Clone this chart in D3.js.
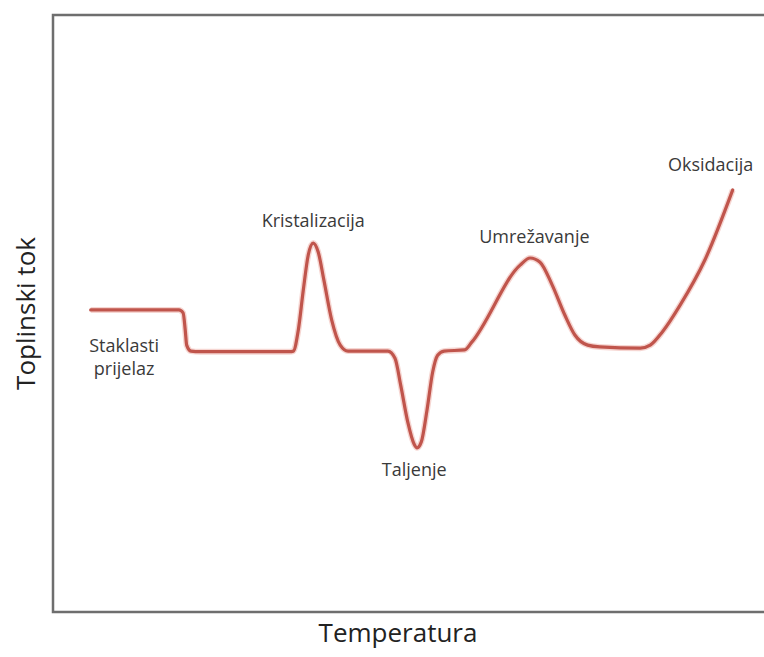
<!DOCTYPE html>
<html>
<head>
<meta charset="utf-8">
<script src="https://cdn.jsdelivr.net/npm/d3@7"></script>
<style>
  body { margin: 0; background: #fff; }
  svg { display: block; font-family: "Open Sans", "Noto Sans", sans-serif; }
</style>
</head>
<body>
<svg id="chart"></svg>
<script>
// DSC curve data (temperature / heat flow, arbitrary units)
const temperature = [5.3, 17.7, 18.3, 18.6, 18.8, 19.4, 20.7, 33.3, 33.8, 34.5,
  35.2, 35.9, 36.6, 37.3, 38.1, 39.2, 40.4, 41.5, 47.1, 48.1,
  48.9, 49.9, 50.8, 51.2, 51.8, 52.6, 53.4, 54.1, 55.0, 57.9,
  58.9, 65.7, 67.1, 68.5, 70.2, 72.0, 73.4, 75.2, 76.9, 82.6,
  84.0, 85.7, 88.2, 91.7, 95.6];
const heatFlow = [50.6, 50.6, 50.1, 47.2, 44.7, 43.7, 43.6, 43.6, 43.7, 47.2,
  53.9, 59.8, 61.8, 60.3, 55.6, 48.9, 44.7, 43.7, 43.7, 42.5,
  38.0, 31.8, 28.1, 27.5, 28.5, 33.8, 40.2, 43.0, 43.7, 43.9,
  45.2, 58.1, 59.3, 58.6, 54.8, 49.7, 46.4, 44.7, 44.4, 44.2,
  44.7, 46.9, 51.4, 59.0, 70.7];

// annotations (label text, anchor temperature, anchor heat flow)
const labelText = ["Staklasti", "prijelaz", "Kristalizacija", "Taljenje", "Umrežavanje", "Oksidacija"];
const labelTemp = [10.0, 10.0, 36.6, 50.8, 67.7, 92.5];
const labelHeat = [43.6, 39.7, 64.5, 22.8, 61.8, 73.9];

const xTitle = "Temperatura";
const yTitle = "Toplinski tok";

const width = 764;
const height = 657;
const margin = { top: 15, right: 0, bottom: 45, left: 53 };
const innerWidth = width - margin.left - margin.right;
const innerHeight = height - margin.top - margin.bottom;

const svg = d3.select("#chart")
    .attr("width", width)
    .attr("height", height);

const xScale = d3.scaleLinear()
    .domain([0, 100])
    .range([margin.left, margin.left + innerWidth]);

const yScale = d3.scaleLinear()
    .domain([0, 100])
    .range([margin.top + innerHeight, margin.top]);

// frame (right side runs off the picture)
svg.append("path")
    .attr("d", `M${width},${margin.top} H${margin.left} V${margin.top + innerHeight} H${width}`)
    .attr("fill", "none")
    .attr("stroke", "#6e6e6e")
    .attr("stroke-width", 2.5);

const points = temperature.map((t, i) => ({ t: t, h: heatFlow[i] }));

const line = d3.line()
    .x(d => xScale(d.t))
    .y(d => yScale(d.h))
    .curve(d3.curveMonotoneX);

// soft halo under the curve
svg.append("path")
    .datum(points)
    .attr("d", line)
    .attr("fill", "none")
    .attr("stroke", "#f6d6d2")
    .attr("stroke-width", 6)
    .attr("stroke-linejoin", "round");

svg.append("path")
    .datum(points)
    .attr("d", line)
    .attr("fill", "none")
    .attr("stroke", "#c0554c")
    .attr("stroke-width", 3.2)
    .attr("stroke-linejoin", "round")
    .attr("stroke-linecap", "round");

// annotation labels
svg.selectAll(".label")
    .data(labelText)
    .enter().append("text")
    .attr("class", "label")
    .attr("x", (d, i) => xScale(labelTemp[i]))
    .attr("y", (d, i) => yScale(labelHeat[i]))
    .attr("text-anchor", "middle")
    .attr("font-size", 18)
    .attr("fill", "#3a3a3a")
    .text(d => d);

// axis titles
svg.append("text")
    .attr("x", 398)
    .attr("y", 642)
    .attr("text-anchor", "middle")
    .attr("font-size", 26)
    .attr("fill", "#222")
    .text(xTitle);

svg.append("g")
    .attr("transform", `translate(35, ${margin.top + innerHeight / 2})`)
  .append("text")
    .attr("transform", "rotate(-90)")
    .attr("text-anchor", "middle")
    .attr("font-size", 26)
    .attr("fill", "#222")
    .text(yTitle);
</script>
</body>
</html>
